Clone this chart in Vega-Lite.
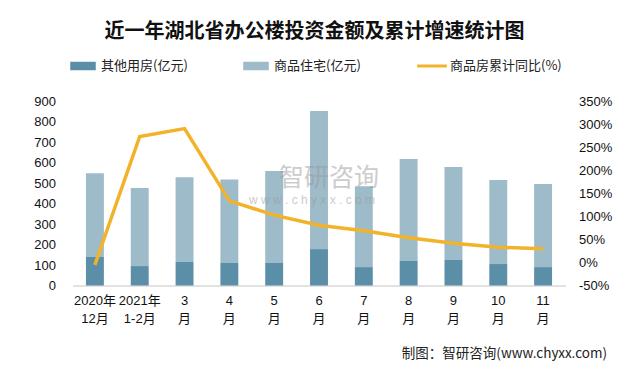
{
  "$schema": "https://vega.github.io/schema/vega-lite/v6.json",
  "width": 493,
  "height": 184,
  "autosize": "none",
  "padding": {"left": 72.5, "top": 101.5, "right": 60.5, "bottom": 88.5},
  "background": "white",
  "title": {
    "text": "近一年湖北省办公楼投资金额及累计增速统计图",
    "font": "Noto Sans CJK SC",
    "fontSize": 20,
    "fontWeight": "bold",
    "color": "#111111",
    "anchor": "middle",
    "frame": "group",
    "dx": -4.5,
    "offset": 11
  },
  "data": {
    "values": [
      {"m": "2020年|12月", "其他用房(亿元)": 139, "商品住宅(亿元)": 410, "yoy": -5},
      {"m": "2021年|1-2月", "其他用房(亿元)": 95, "商品住宅(亿元)": 382, "yoy": 274},
      {"m": "3|月", "其他用房(亿元)": 115, "商品住宅(亿元)": 414, "yoy": 291},
      {"m": "4|月", "其他用房(亿元)": 110, "商品住宅(亿元)": 409, "yoy": 134},
      {"m": "5|月", "其他用房(亿元)": 110, "商品住宅(亿元)": 450, "yoy": 103},
      {"m": "6|月", "其他用房(亿元)": 178, "商品住宅(亿元)": 676, "yoy": 81},
      {"m": "7|月", "其他用房(亿元)": 90, "商品住宅(亿元)": 395, "yoy": 69},
      {"m": "8|月", "其他用房(亿元)": 120, "商品住宅(亿元)": 499, "yoy": 54},
      {"m": "9|月", "其他用房(亿元)": 125, "商品住宅(亿元)": 455, "yoy": 42},
      {"m": "10|月", "其他用房(亿元)": 105, "商品住宅(亿元)": 411, "yoy": 33},
      {"m": "11|月", "其他用房(亿元)": 90, "商品住宅(亿元)": 407, "yoy": 30}
    ]
  },
  "config": {
    "view": {"stroke": null},
    "axis": {
      "labelFont": "Liberation Sans, Noto Sans CJK SC",
      "labelFontSize": 13,
      "labelColor": "#111111",
      "ticks": false,
      "grid": false
    }
  },
  "layer": [
    {
      "transform": [{"fold": ["其他用房(亿元)", "商品住宅(亿元)"], "as": ["series", "value"]}],
      "mark": {"type": "bar"},
      "encoding": {
        "x": {
          "field": "m",
          "type": "nominal",
          "sort": null,
          "scale": {"paddingInner": 0.6, "paddingOuter": 0.3},
          "axis": {
            "labelExpr": "split(datum.label, '|')",
            "labelAngle": 0,
            "labelLineHeight": 18,
            "labelPadding": 9,
            "labelBaseline": "top",
            "domainColor": "#d9d9d9",
            "domainWidth": 1.5,
            "title": "制图：智研咨询(www.chyxx.com)",
            "titleFont": "Noto Sans CJK SC",
            "titleFontSize": 13.5,
            "titleFontWeight": "normal",
            "titleColor": "#222222",
            "titleAlign": "right",
            "titleBaseline": "middle",
            "titleX": 534,
            "titleY": 68
          }
        },
        "y": {
          "field": "value",
          "type": "quantitative",
          "stack": "zero",
          "scale": {"domain": [0, 900]},
          "axis": {
            "values": [0, 100, 200, 300, 400, 500, 600, 700, 800, 900],
            "domain": false,
            "labelPadding": 17,
            "title": null
          }
        },
        "color": {
          "field": "series",
          "type": "nominal",
          "scale": {
            "domain": ["其他用房(亿元)", "商品住宅(亿元)", "商品房累计同比(%)"],
            "range": ["#5b8fa7", "#9ebbc9", "#f2b32a"]
          },
          "legend": {
            "title": null,
            "orient": "none",
            "direction": "horizontal",
            "legendX": -2.5,
            "legendY": -48.5,
            "padding": 0,
            "symbolSize": 576,
            "labelFont": "Noto Sans CJK SC",
            "labelFontSize": 13,
            "labelColor": "#222222",
            "labelOffset": 5,
            "columnPadding": 53,
            "labelLimit": 200,
            "encode": {
              "symbols": {
                "update": {
                  "shape": {"signal": "datum.value === '商品房累计同比(%)' ? 'M-1.17,-0.07H1.17V0.07H-1.17Z' : 'M-1,-0.3H1V0.3H-1Z'"},
                  "fill": {"scale": "color", "field": "value"},
                  "stroke": {"value": "transparent"},
                  "opacity": {"value": 1}
                }
              }
            }
          }
        },
        "order": {"field": "series", "sort": "ascending"}
      }
    },
    {
      "data": {"values": [{"t": "智研咨询"}]},
      "mark": {"type": "text", "font": "Noto Sans CJK SC", "fontSize": 25, "color": "#9a9a9a", "opacity": 0.5, "dx": 10},
      "encoding": {
        "text": {"field": "t"},
        "x": {"datum": "6|月", "type": "nominal"},
        "y": {"datum": 528, "type": "quantitative", "scale": {"domain": [0, 900]}, "axis": null}
      }
    },
    {
      "data": {"values": [{"t": "w w w . c h y x x . c o m"}]},
      "mark": {"type": "text", "font": "Liberation Sans", "fontSize": 12, "color": "#9a9a9a", "opacity": 0.5, "dx": -7},
      "encoding": {
        "text": {"field": "t"},
        "x": {"datum": "6|月", "type": "nominal"},
        "y": {"datum": 416, "type": "quantitative", "scale": {"domain": [0, 900]}, "axis": null}
      }
    },
    {
      "mark": {"type": "line", "strokeWidth": 3.5},
      "encoding": {
        "x": {"field": "m", "type": "nominal", "sort": null},
        "y": {
          "field": "yoy",
          "type": "quantitative",
          "scale": {"domain": [-50, 350]},
          "axis": {
            "orient": "right",
            "values": [-50, 0, 50, 100, 150, 200, 250, 300, 350],
            "labelExpr": "datum.value + '%'",
            "domain": false,
            "labelPadding": 13,
            "title": null
          }
        },
        "color": {"datum": "商品房累计同比(%)", "type": "nominal"}
      }
    }
  ],
  "resolve": {"scale": {"y": "independent"}}
}
